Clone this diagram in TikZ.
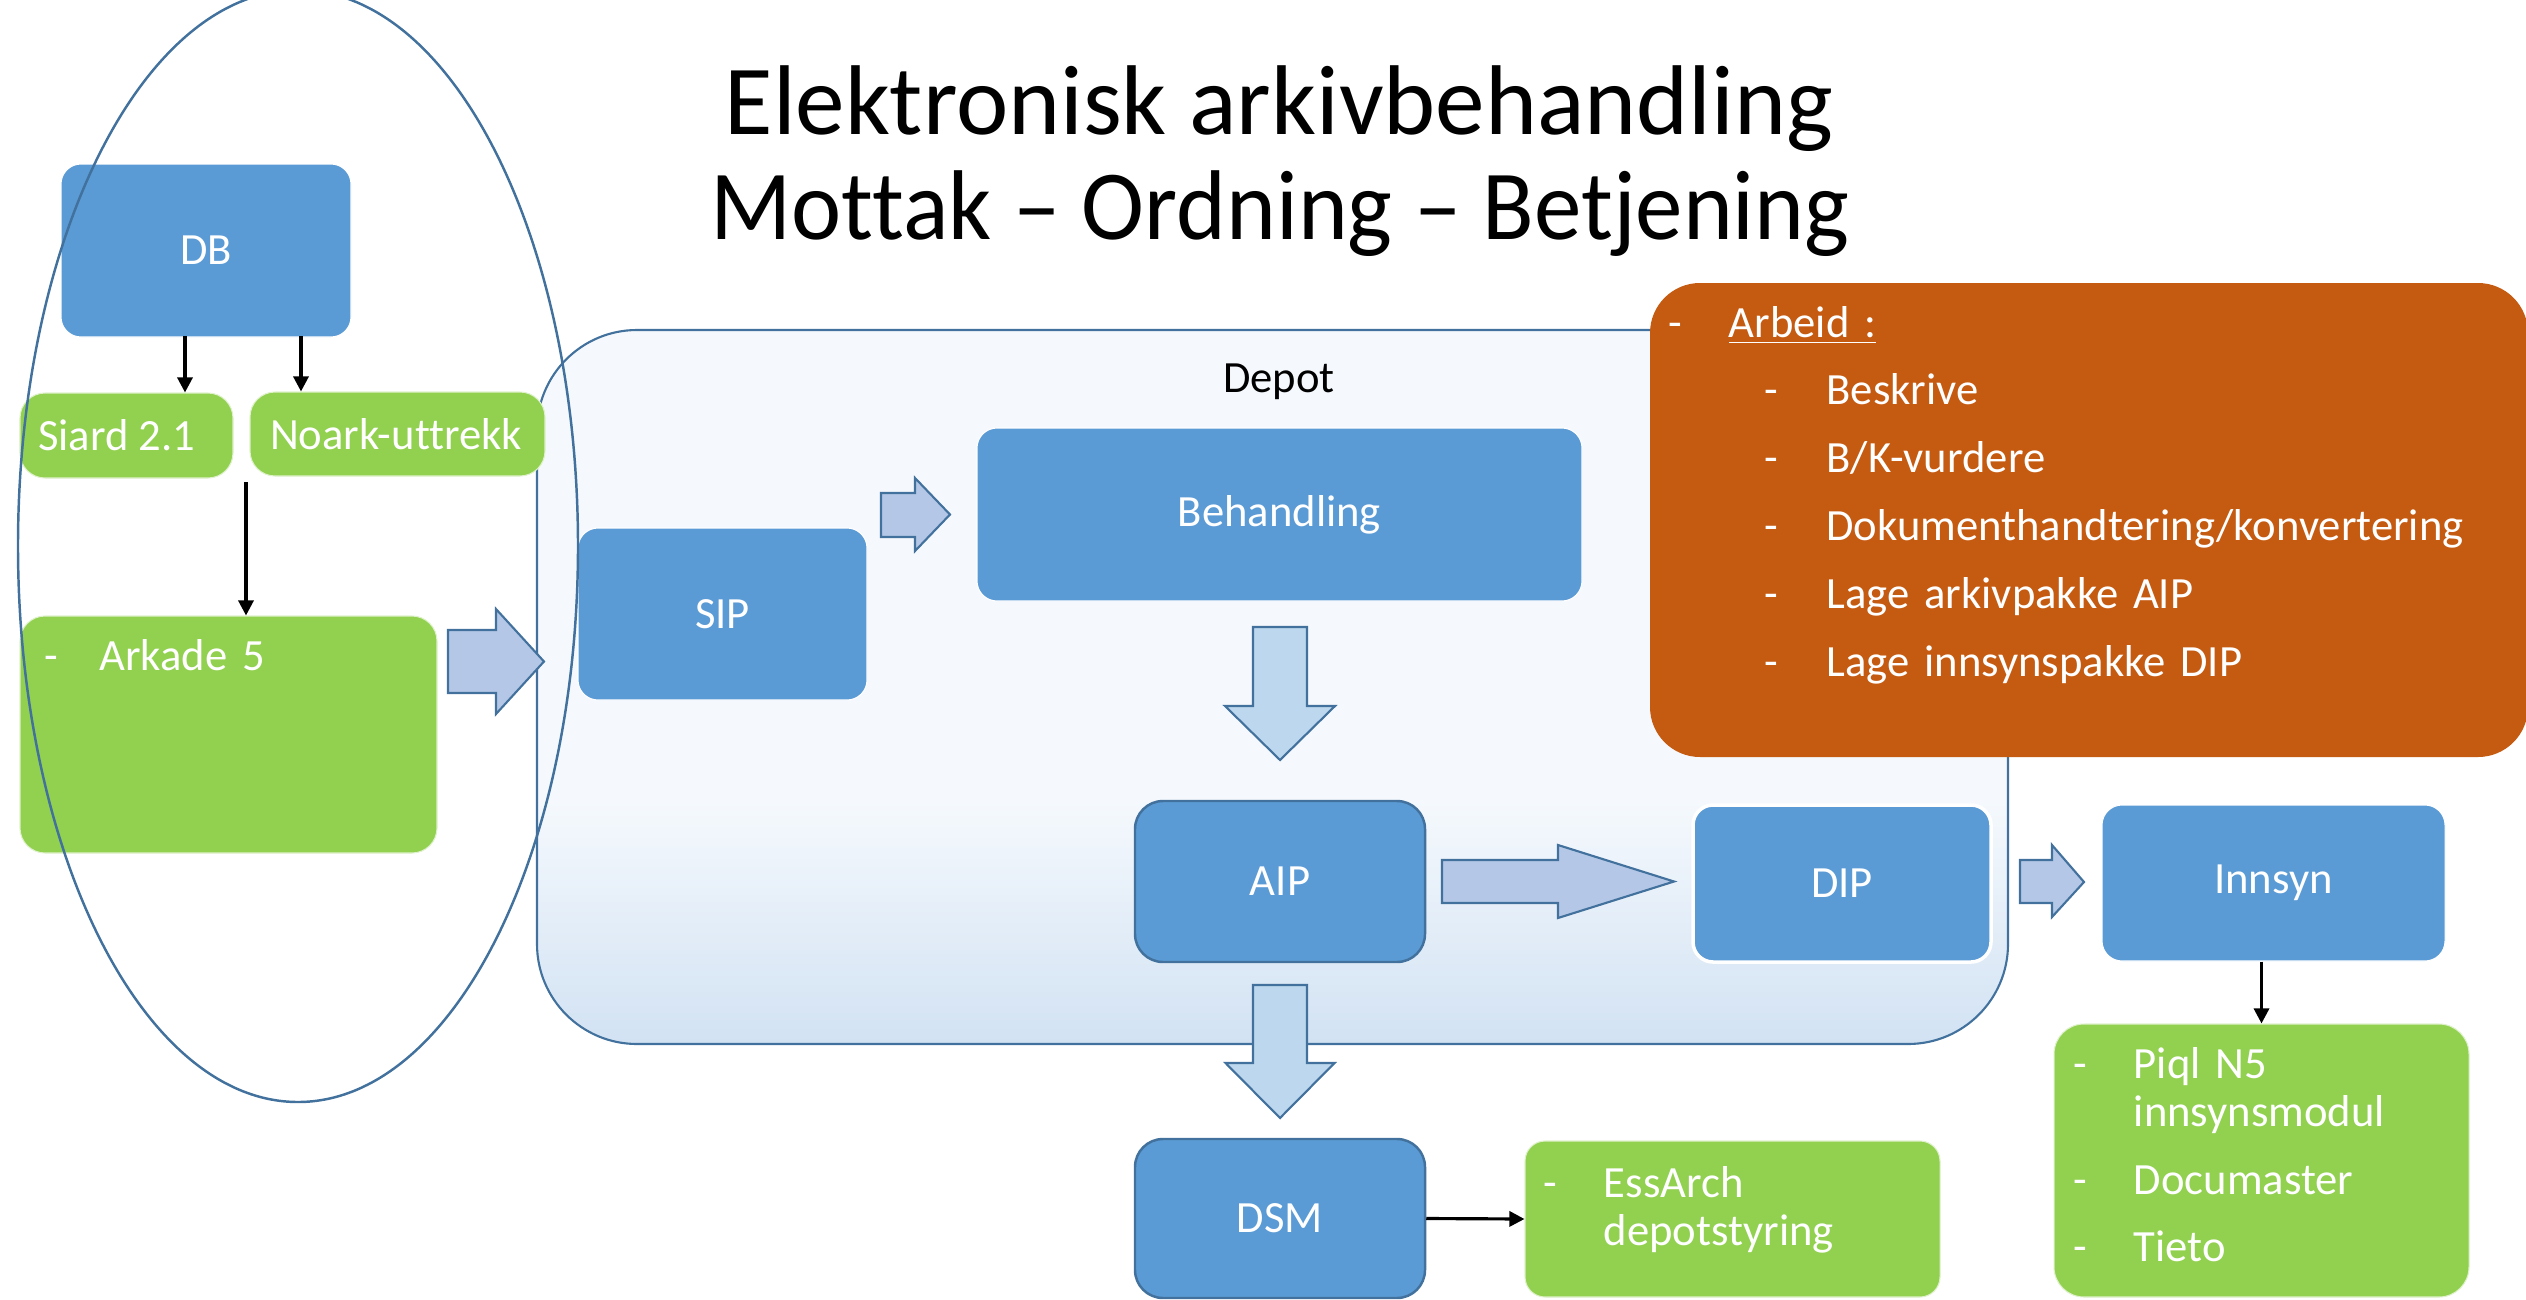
\documentclass[tikz,border=0pt]{standalone}
\usepackage{fontspec}
\setmainfont{Carlito}[Ligatures={TeX,NoCommon}]
\usepackage{xcolor}
\usepackage{tikz}
\usetikzlibrary{arrows.meta,calc}

\definecolor{boxblue}{HTML}{5B9BD5}
\definecolor{boxgreen}{HTML}{92D050}
\definecolor{boxorange}{HTML}{C55A11}
\definecolor{edgeblue}{HTML}{41719C}
\definecolor{arrowfill}{HTML}{B4C7E7}
\definecolor{arrowfilldown}{HTML}{BDD7EE}
\definecolor{depottop}{HTML}{F5F9FD}
\definecolor{depotbot}{HTML}{D2E2F3}

\newcommand{\bodyfont}{\fontsize{12.7}{13.9}\selectfont}
\newcommand{\dashitem}[1]{\makebox[17.1pt][l]{-}#1}
\newcommand{\dashsub}[1]{\hspace*{27.3pt}\makebox[17.6pt][l]{-}#1}

\begin{document}
\begin{tikzpicture}[
		bluebox/.style={fill=boxblue, draw=white, line width=0.3pt, rounded corners=0.2cm, text=white, font=\bodyfont, inner sep=0pt},
		pkgbox/.style={bluebox, draw=edgeblue, line width=0.7pt, rounded corners=0.28cm},
		greenbox/.style={fill=boxgreen, draw=white!70!boxgreen, line width=0.3pt, rounded corners=0.25cm, text=white, font=\bodyfont, inner sep=0pt},
		listtext/.style={text=white, font=\bodyfont, anchor=base west, inner sep=0pt, align=left},
		conn/.style={line width=0.9pt, -{Triangle[length=4.3pt,width=4.3pt]}},
		blockarrow/.style={fill=arrowfill, draw=edgeblue, line width=0.6pt, line join=miter},
	]
	\useasboundingbox (0,0) rectangle (25.26,-12.99);
	
	\node [font=\fontsize{28.2}{30}\selectfont, anchor=base] (title1) at (12.79,-1.34) {Elektronisk arkivbehandling};
	\node [font=\fontsize{28.2}{30}\selectfont, anchor=base, xscale=0.958, transform shape] (title2) at (12.80,-2.39) {Mottak – Ordning – Betjening};
	
	% depot
	\path [fill=depottop, rounded corners=1cm] (5.37,-3.30) rectangle (20.08,-10.44);
	\begin{scope}
		\clip [rounded corners=1cm] (5.37,-3.30) rectangle (20.08,-10.44);
		\shade [top color=depottop, bottom color=depotbot] (5.3,-8.0) rectangle (20.1,-10.44);
	\end{scope}
	\draw [edgeblue, line width=0.6pt, rounded corners=1cm] (5.37,-3.30) rectangle (20.08,-10.44);
	\node [font=\bodyfont, anchor=base] (depotlabel) at (12.79,-3.92) {Depot};
	
	\node [fill=boxorange, rounded corners=0.5cm, minimum width=8.78cm, minimum height=4.74cm, inner sep=0pt] (arbeid) at (20.89,-5.20) {};
	\node [listtext, text width=8.5cm, font=\fontsize{12.7}{19.3}\selectfont] (arbeidtxt) at (16.68,-3.37) {\dashitem{\underline{Arbeid :}}\\
		\dashsub{Beskrive}\\
		\dashsub{B/K-vurdere}\\
		\dashsub{Dokumenthandtering/konvertering}\\
		\dashsub{Lage arkivpakke AIP}\\
		\dashsub{Lage innsynspakke DIP}};
	
	\node [bluebox, minimum width=2.90cm, minimum height=1.73cm] (db) at (2.06,-2.505) {DB};
	\node [greenbox, minimum width=2.13cm, minimum height=0.85cm] (siard) at (1.265,-4.355) {\makebox[1.77cm][l]{Siard 2.1}};
	\node [greenbox, minimum width=2.95cm, minimum height=0.84cm] (noark) at (3.975,-4.34) {\makebox[2.55cm][l]{Noark-uttrekk}};
	\node [greenbox, minimum width=4.17cm, minimum height=2.37cm] (arkade) at (2.285,-7.345) {};
	\node [listtext, text width=3.5cm] (arkadetxt) at (0.44,-6.70) {\makebox[15.6pt][l]{-}Arkade 5};
	
	\node [bluebox, minimum width=2.89cm, minimum height=1.72cm] (sip) at (7.225,-6.14) {SIP};
	\node [bluebox, minimum width=6.05cm, minimum height=1.73cm] (beh) at (12.795,-5.145) {Behandling};
	\node [pkgbox, minimum width=2.90cm, minimum height=1.61cm] (aip) at (12.80,-8.815) {AIP};
	\node [bluebox, line width=1pt, minimum width=2.98cm, minimum height=1.57cm] (dip) at (18.42,-8.835) {DIP};
	\node [bluebox, minimum width=3.43cm, minimum height=1.56cm] (innsyn) at (22.735,-8.83) {Innsyn};
	\node [pkgbox, minimum width=2.90cm, minimum height=1.59cm] (dsm) at (12.80,-12.185) {DSM};
	
	\node [greenbox, rounded corners=0.3cm, minimum width=4.15cm, minimum height=2.73cm] (piql) at (22.615,-11.605) {};
	\node [listtext, text width=3.9cm] (piqltxt) at (20.73,-10.78) {\dashitem{Piql N5}\\
		\hspace*{17.1pt}innsynsmodul\\[5.3pt]
		\dashitem{Documaster}\\[5.3pt]
		\dashitem{Tieto}};
	\node [greenbox, rounded corners=0.2cm, minimum width=4.15cm, minimum height=1.56cm] (essarch) at (17.325,-12.19) {};
	\node [listtext, text width=3.9cm] (essarchtxt) at (15.43,-11.97) {\dashitem{EssArch}\\
		\hspace*{17.1pt}depotstyring};
	
	% block arrows
	\draw [blockarrow] (4.48,-6.30) -- (4.96,-6.30) -- (4.96,-6.09) -- (5.44,-6.615) -- (4.96,-7.14) -- (4.96,-6.93) -- (4.48,-6.93) -- cycle;
	\draw [blockarrow] (8.81,-4.93) -- (9.15,-4.93) -- (9.15,-4.78) -- (9.50,-5.145) -- (9.15,-5.51) -- (9.15,-5.37) -- (8.81,-5.37) -- cycle;
	\draw [blockarrow] (14.42,-8.60) -- (15.58,-8.60) -- (15.58,-8.45) -- (16.74,-8.815) -- (15.58,-9.18) -- (15.58,-9.03) -- (14.42,-9.03) -- cycle;
	\draw [blockarrow] (20.20,-8.60) -- (20.52,-8.60) -- (20.52,-8.45) -- (20.84,-8.82) -- (20.52,-9.17) -- (20.52,-9.03) -- (20.20,-9.03) -- cycle;
	\draw [blockarrow, fill=arrowfilldown] (12.53,-6.27) -- (13.07,-6.27) -- (13.07,-7.06) -- (13.35,-7.06) -- (12.80,-7.60) -- (12.25,-7.06) -- (12.53,-7.06) -- cycle;
	\draw [blockarrow, fill=arrowfilldown] (12.53,-9.85) -- (13.07,-9.85) -- (13.07,-10.63) -- (13.345,-10.63) -- (12.80,-11.18) -- (12.255,-10.63) -- (12.53,-10.63) -- cycle;
	
	% thin arrows
	\coordinate (dbout1) at (1.85,-3.36);
	\coordinate (dbout2) at (3.01,-3.36);
	\coordinate (noarkout) at (2.46,-4.82);
	\draw [conn] (dbout1) -- (dbout1 |- siard.north);
	\draw [conn] (dbout2) -- (dbout2 |- noark.north);
	\draw [conn] (noarkout) -- (noarkout |- arkade.north);
	\draw [conn] (innsyn.south -| piql.north) -- (piql.north);
	\draw [conn] (dsm.east) -- (essarch.west);
	
	\draw [edgeblue, line width=0.7pt] (2.98,-5.46) ellipse [x radius=2.80, y radius=5.56];
\end{tikzpicture}
\end{document}
